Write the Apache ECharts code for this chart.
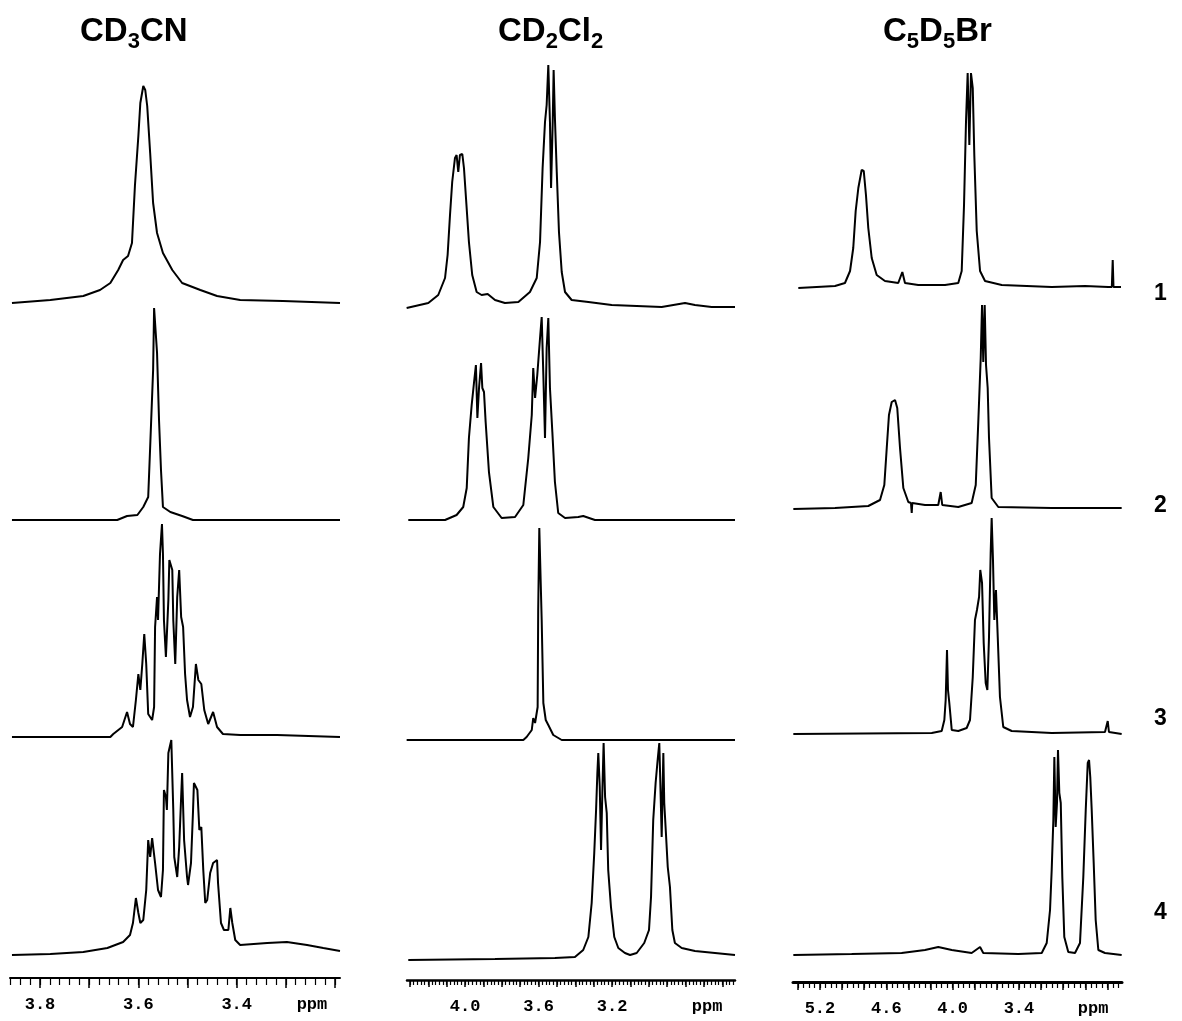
<!DOCTYPE html>
<html><head><meta charset="utf-8">
<script src="https://cdn.jsdelivr.net/npm/echarts@6/dist/echarts.min.js"></script>
<style>html,body{margin:0;padding:0;background:#fff}#c{width:1182px;height:1021px}</style>
</head><body><div id="c"></div>
<script>
// ---------- DATA ----------
const solventTitles = ['{a|CD}{b|3}{a|CN}', '{a|CD}{b|2}{a|Cl}{b|2}', '{a|C}{b|5}{a|D}{b|5}{a|Br}'];
const rowNames = ['1', '2', '3', '4'];
const axisRanges = [[3.19, 3.861], [2.531, 4.316], [2.468, 5.444]];   // ppm [min, max]
const tickLabels = [[3.8, 3.6, 3.4], [4.0, 3.6, 3.2], [5.2, 4.6, 4.0, 3.4]];
const unitLabel = 'ppm';
const unitPos = [3.247, 2.683, 2.730];
const majorStep = [0.1, 0.1, 0.2];
const minorStep = [0.02, 0.02, 0.05];

// spectra: [ppm, intensity]
const s_CD3CN_1 = [[3.857,0],[3.779,3],[3.712,7],[3.678,13],[3.657,20],[3.641,33],[3.631,43],[3.621,47],[3.613,60],[3.607,117],[3.600,167],[3.596,200],[3.590,217],[3.586,213],[3.582,197],[3.576,150],[3.570,100],[3.562,70],[3.550,50],[3.531,33],[3.511,20],[3.474,13],[3.440,7],[3.393,3],[3.306,2],[3.190,0]];
const s_CD3CN_2 = [[3.857,0],[3.643,0],[3.623,4],[3.602,5],[3.590,13],[3.580,23],[3.576,73],[3.570,150],[3.568,212],[3.564,212],[3.562,167],[3.558,100],[3.554,50],[3.550,13],[3.535,8],[3.529,7],[3.511,4],[3.489,0],[3.190,0]];
const s_CD3CN_3 = [[3.857,0],[3.657,0],[3.651,3],[3.633,10],[3.623,25],[3.617,13],[3.611,10],[3.605,37],[3.600,63],[3.596,47],[3.592,73],[3.588,103],[3.584,73],[3.580,23],[3.572,17],[3.568,30],[3.566,110],[3.562,140],[3.560,117],[3.556,183],[3.552,213],[3.550,183],[3.548,117],[3.544,80],[3.539,137],[3.537,177],[3.531,167],[3.529,117],[3.525,73],[3.521,140],[3.517,167],[3.513,120],[3.509,110],[3.505,63],[3.501,37],[3.495,20],[3.489,30],[3.483,73],[3.478,57],[3.472,53],[3.466,27],[3.458,13],[3.448,25],[3.440,10],[3.428,3],[3.393,2],[3.318,2],[3.190,0]];
const s_CD3CN_4 = [[3.857,0],[3.779,1],[3.712,3],[3.663,7],[3.631,13],[3.617,20],[3.611,32],[3.605,57],[3.600,42],[3.596,32],[3.590,35],[3.584,65],[3.580,115],[3.576,98],[3.572,117],[3.566,92],[3.560,65],[3.554,58],[3.550,85],[3.548,165],[3.544,158],[3.542,145],[3.539,202],[3.533,215],[3.529,145],[3.527,98],[3.521,78],[3.517,108],[3.513,158],[3.511,182],[3.507,115],[3.501,78],[3.499,70],[3.493,92],[3.489,142],[3.487,172],[3.480,165],[3.476,125],[3.472,128],[3.468,85],[3.464,52],[3.460,55],[3.454,82],[3.448,92],[3.440,95],[3.438,72],[3.432,32],[3.426,25],[3.417,25],[3.413,47],[3.409,32],[3.403,15],[3.393,10],[3.338,12],[3.298,13],[3.257,10],[3.224,7],[3.190,4]];

const s_CD2Cl2_1 = [[4.318,0],[4.200,5],[4.146,13],[4.109,30],[4.095,53],[4.082,93],[4.070,126],[4.055,150],[4.046,153],[4.037,136],[4.028,153],[4.015,154],[4.006,140],[3.995,110],[3.979,66],[3.961,33],[3.937,16],[3.910,13],[3.877,14],[3.837,8],[3.783,5],[3.710,6],[3.647,16],[3.610,30],[3.592,66],[3.578,140],[3.565,186],[3.556,203],[3.547,243],[3.538,186],[3.532,120],[3.523,186],[3.518,238],[3.511,190],[3.501,136],[3.489,76],[3.474,36],[3.456,16],[3.420,8],[3.329,6],[3.202,3],[2.930,1],[2.803,5],[2.749,3],[2.658,1],[2.531,1]];
const s_CD2Cl2_2 = [[4.309,0],[4.109,0],[4.046,5],[4.010,13],[3.991,32],[3.979,82],[3.964,115],[3.951,138],[3.941,155],[3.933,102],[3.924,132],[3.913,157],[3.906,132],[3.897,128],[3.888,98],[3.870,48],[3.846,13],[3.801,2],[3.728,3],[3.683,15],[3.656,62],[3.637,105],[3.629,152],[3.619,122],[3.607,145],[3.592,182],[3.583,203],[3.574,145],[3.565,82],[3.556,172],[3.547,202],[3.538,132],[3.525,88],[3.511,38],[3.493,7],[3.456,2],[3.384,3],[3.357,4],[3.293,0],[2.930,0],[2.531,0]];
const s_CD2Cl2_3 = [[4.318,0],[3.683,0],[3.665,3],[3.637,10],[3.629,22],[3.619,17],[3.605,33],[3.602,130],[3.596,212],[3.588,212],[3.583,120],[3.574,37],[3.561,20],[3.547,15],[3.520,5],[3.474,0],[2.531,0]];
const s_CD2Cl2_4 = [[4.309,0],[3.837,1],[3.511,2],[3.402,3],[3.357,10],[3.329,23],[3.311,57],[3.297,107],[3.287,150],[3.280,187],[3.275,207],[3.267,173],[3.260,110],[3.253,167],[3.246,217],[3.238,163],[3.229,147],[3.221,90],[3.206,53],[3.188,23],[3.166,12],[3.130,7],[3.102,5],[3.066,7],[3.025,17],[2.999,30],[2.988,63],[2.976,140],[2.963,177],[2.952,200],[2.943,217],[2.935,160],[2.930,123],[2.921,207],[2.916,157],[2.907,127],[2.897,93],[2.885,73],[2.872,30],[2.858,17],[2.821,12],[2.749,9],[2.640,7],[2.531,5]];

const s_C5D5Br_1 = [[5.396,0],[5.064,2],[4.974,5],[4.928,17],[4.899,40],[4.877,77],[4.853,100],[4.823,118],[4.804,117],[4.784,93],[4.763,60],[4.732,30],[4.687,13],[4.612,7],[4.492,5],[4.455,16],[4.431,5],[4.311,3],[4.069,3],[3.949,5],[3.918,17],[3.897,83],[3.879,167],[3.864,215],[3.849,143],[3.834,215],[3.818,200],[3.804,133],[3.782,57],[3.752,17],[3.707,7],[3.556,3],[3.104,1],[2.803,2],[2.592,1],[2.560,1],[2.552,28],[2.545,1],[2.477,1]];
const s_C5D5Br_2 = [[5.441,0],[5.064,1],[4.763,3],[4.657,9],[4.618,24],[4.596,61],[4.576,94],[4.551,107],[4.521,109],[4.501,101],[4.476,61],[4.446,21],[4.401,7],[4.377,6],[4.370,-4],[4.365,6],[4.250,4],[4.130,4],[4.108,17],[4.094,4],[3.949,2],[3.828,6],[3.791,24],[3.768,87],[3.746,151],[3.734,204],[3.723,147],[3.710,204],[3.698,144],[3.683,121],[3.671,71],[3.647,11],[3.587,2],[3.104,1],[2.471,1]];
const s_C5D5Br_3 = [[5.441,0],[4.189,1],[4.099,3],[4.075,14],[4.063,34],[4.051,84],[4.042,44],[4.030,31],[4.008,4],[3.949,3],[3.873,6],[3.843,14],[3.818,57],[3.798,114],[3.780,124],[3.761,137],[3.750,164],[3.734,151],[3.719,91],[3.701,51],[3.686,44],[3.671,97],[3.656,181],[3.647,216],[3.635,174],[3.623,114],[3.608,144],[3.592,97],[3.572,37],[3.542,7],[3.466,3],[3.104,1],[2.622,2],[2.597,13],[2.586,2],[2.471,0]];
const s_C5D5Br_4 = [[5.441,0],[4.913,1],[4.461,2],[4.250,5],[4.130,8],[4.008,5],[3.828,2],[3.752,8],[3.723,2],[3.406,1],[3.194,2],[3.149,12],[3.119,45],[3.104,85],[3.089,135],[3.080,198],[3.068,128],[3.056,152],[3.047,205],[3.035,162],[3.022,152],[3.008,78],[2.990,18],[2.954,3],[2.893,2],[2.848,12],[2.818,78],[2.796,145],[2.778,192],[2.766,195],[2.755,178],[2.742,145],[2.724,92],[2.706,35],[2.682,5],[2.622,2],[2.471,0]];

const spectra = [
  [s_CD3CN_1, s_CD2Cl2_1, s_C5D5Br_1],
  [s_CD3CN_2, s_CD2Cl2_2, s_C5D5Br_2],
  [s_CD3CN_3, s_CD2Cl2_3, s_C5D5Br_3],
  [s_CD3CN_4, s_CD2Cl2_4, s_C5D5Br_4]
];

// ---------- LAYOUT ----------
const colLeft = [10, 407, 793];
const colWidth = [330, 328, 329];
const baselines = [[303, 308, 288], [520, 520, 509], [737, 740, 734], [955, 960, 955]];
const plotH = 250;
const axisY = [978, 980, 982];
const axisLineW = [2, 2.5, 3];
const majorLen = [10, 7, 8];
const minorLen = [7, 5, 6];
const titleLeft = [80, 498, 883];
const rowLabelTop = [282, 494, 707, 901];

function stepValues(min, max, step) {
  const out = [];
  const start = Math.ceil(min / step - 1e-9);
  for (let k = start; k * step <= max + 1e-9; k++) out.push(+(k * step).toFixed(4));
  return out;
}

const grids = [], xAxes = [], yAxes = [], series = [];
for (let r = 0; r < 4; r++) {
  for (let c = 0; c < 3; c++) {
    const gi = grids.length;
    grids.push({ left: colLeft[c], width: colWidth[c], top: baselines[r][c] - plotH, height: plotH });
    xAxes.push({ gridIndex: gi, type: 'value', min: axisRanges[c][0], max: axisRanges[c][1], inverse: true, show: false });
    yAxes.push({ gridIndex: gi, type: 'value', min: 0, max: plotH, show: false });
    series.push({
      type: 'line', xAxisIndex: gi, yAxisIndex: gi, data: spectra[r][c],
      showSymbol: false, silent: true, clip: false, animation: false,
      lineStyle: { color: '#000', width: 2 }
    });
  }
}
const monoFont = { fontFamily: 'Liberation Mono', fontWeight: 'bold', fontSize: 17, color: '#000' };
for (let c = 0; c < 3; c++) {
  const [mn, mx] = axisRanges[c];
  let gi = grids.length;
  grids.push({ left: colLeft[c], width: colWidth[c], top: axisY[c] - 20, height: 20 });
  yAxes.push({ gridIndex: gi, type: 'value', show: false });
  xAxes.push({
    gridIndex: gi, type: 'value', min: mn, max: mx, inverse: true, position: 'bottom',
    axisLine: { show: true, lineStyle: { color: '#000', width: axisLineW[c] } },
    axisTick: { show: true, customValues: stepValues(mn, mx, majorStep[c]), length: majorLen[c], lineStyle: { color: '#000', width: 1.5 } },
    axisLabel: Object.assign({
      show: true, margin: 18,
      customValues: tickLabels[c].concat([unitPos[c]]),
      formatter: v => Math.abs(v - unitPos[c]) < 1e-6 ? unitLabel : v.toFixed(1)
    }, monoFont),
    splitLine: { show: false }
  });
  gi = grids.length;
  grids.push({ left: colLeft[c], width: colWidth[c], top: axisY[c] - 20, height: 20 });
  yAxes.push({ gridIndex: gi, type: 'value', show: false });
  xAxes.push({
    gridIndex: gi, type: 'value', min: mn, max: mx, inverse: true, position: 'bottom',
    axisLine: { show: false },
    axisTick: { show: true, customValues: stepValues(mn, mx, minorStep[c]), length: minorLen[c], lineStyle: { color: '#000', width: 1.2 } },
    axisLabel: { show: false }, splitLine: { show: false }
  });
}

const titleRich = {
  a: { fontFamily: 'Liberation Sans', fontWeight: 'bold', fontSize: 33, lineHeight: 34, verticalAlign: 'top', color: '#000' },
  b: { fontFamily: 'Liberation Sans', fontWeight: 'bold', fontSize: 22, lineHeight: 22, padding: [16, 0, 0, 0], verticalAlign: 'top', color: '#000' }
};
const titles = solventTitles.map((t, c) => ({ text: t, left: titleLeft[c], top: 15, padding: 0, textStyle: { rich: titleRich } }));
rowNames.forEach((n, r) => titles.push({
  text: n, left: 1154, top: rowLabelTop[r], padding: 0,
  textStyle: { fontFamily: 'Liberation Sans', fontWeight: 'bold', fontSize: 23, color: '#000' }
}));

const chart = echarts.init(document.getElementById('c'), null, { renderer: 'canvas' });
chart.setOption({
  animation: false,
  backgroundColor: '#fff',
  title: titles,
  grid: grids, xAxis: xAxes, yAxis: yAxes, series: series
});
</script></body></html>
